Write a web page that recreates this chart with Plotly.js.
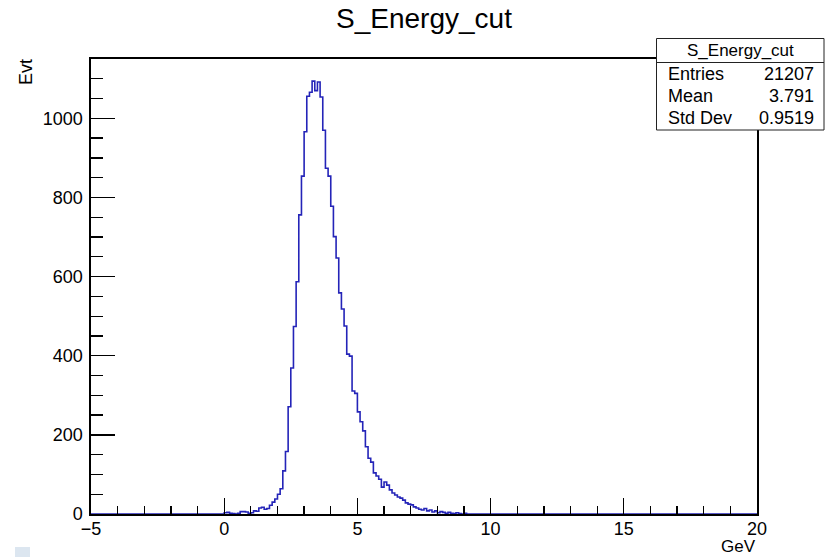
<!DOCTYPE html>
<html>
<head>
<meta charset="utf-8">
<script src="https://cdn.plot.ly/plotly-3.0.1.min.js"></script>
<style>
  html, body { margin: 0; padding: 0; background: #ffffff; }
  #chart { width: 826px; height: 557px; }
</style>
</head>
<body>
<div id="chart"></div>
<script>
// ---- Data (histogram S_Energy_cut, 0.1 GeV bins starting at 0.0 GeV) ----
const histName = "S_Energy_cut";
const binStart = 0.0;
const binWidth = 0.1;
const axisMin = -5;
const axisMax = 20;
const counts = [
  3, 4, 2, 1, 0, 2, 6, 6, 5, 2,
  3, 8, 7, 15, 17, 12, 14, 22, 30, 38,
  50, 64, 109, 158, 271, 369, 474, 587, 756, 854,
  966, 1056, 1066, 1094, 1070, 1092, 1054, 970, 874, 854,
  778, 701, 647, 559, 518, 475, 404, 399, 311, 305,
  258, 233, 210, 170, 141, 131, 104, 96, 88, 68,
  81, 73, 61, 53, 48, 43, 40, 35, 28, 25,
  23, 18, 15, 12, 10, 14, 8, 10, 5, 8,
  3, 6, 4, 2, 4, 2, 1, 3, 1, 0,
  2
];
const statLabels = ["Entries", "Mean", "Std Dev"];
const statValues = ["21207", "3.791", "0.9519"];
const xTitle = "GeV";
const yTitle = "Evt";

// ---- Build step outline from bins ----
const xs = [axisMin];
const ys = [0];
for (let i = 0; i < counts.length; i++) {
  xs.push(+(binStart + i * binWidth).toFixed(4));
  ys.push(counts[i]);
}
xs.push(+(binStart + counts.length * binWidth).toFixed(4));
ys.push(0);
xs.push(axisMax);
ys.push(0);

const FONT = "Liberation Sans, Arial, Helvetica, sans-serif";

// plot-area pixel geometry
const L = 91, R = 757, T = 59, B = 514, W = 826, H = 557;
const px = v => (v - L) / (R - L);
const py = v => (B - v) / (B - T);

const trace = {
  type: "scatter",
  mode: "lines",
  x: xs,
  y: ys,
  line: { shape: "hv", color: "#2424b8", width: 1.6 },
  hoverinfo: "x+y",
  showlegend: false
};

const shapes = [
  // stats box
  { type: "rect", xref: "paper", yref: "paper",
    x0: px(656.5), x1: px(824), y0: py(130), y1: py(38.5),
    line: { color: "#222222", width: 1 }, fillcolor: "#ffffff", layer: "above" },
  { type: "line", xref: "paper", yref: "paper",
    x0: px(656.5), x1: px(824), y0: py(62.5), y1: py(62.5),
    line: { color: "#222222", width: 1 }, layer: "above" },
  // small light square bottom-left
  { type: "rect", xref: "paper", yref: "paper",
    x0: px(15), x1: px(30), y0: py(547), y1: py(557),
    line: { width: 0 }, fillcolor: "#dce6f0", layer: "above" }
];

const annotations = [
  { xref: "paper", yref: "paper", x: px(740), y: py(50), text: histName,
    showarrow: false, xanchor: "center", yanchor: "middle",
    font: { family: FONT, size: 17, color: "#000" } },
  { xref: "paper", yref: "paper", x: px(26), y: py(57), text: yTitle,
    showarrow: false, textangle: -90, xanchor: "center", yanchor: "top",
    font: { family: FONT, size: 18, color: "#000" } },
  { xref: "paper", yref: "paper", x: px(757), y: py(546.5), text: xTitle,
    showarrow: false, xanchor: "right", yanchor: "middle", borderpad: 0,
    font: { family: FONT, size: 17, color: "#000" } }
];
const rowY = [73.5, 95.5, 117.5];
for (let i = 0; i < statLabels.length; i++) {
  annotations.push({ xref: "paper", yref: "paper", x: px(666), y: py(rowY[i]),
    text: statLabels[i], showarrow: false, xanchor: "left", yanchor: "middle",
    font: { family: FONT, size: 18, color: "#000" } });
  annotations.push({ xref: "paper", yref: "paper", x: px(816), y: py(rowY[i]),
    text: statValues[i], showarrow: false, xanchor: "right", yanchor: "middle",
    font: { family: FONT, size: 18, color: "#000" } });
}

const layout = {
  width: W, height: H,
  margin: { l: L, r: W - R, t: T, b: H - B, pad: 0 },
  paper_bgcolor: "#ffffff",
  plot_bgcolor: "#ffffff",
  title: { text: histName, x: 424 / W, xref: "container", xanchor: "center",
           y: 1 - 18 / H, yref: "container", yanchor: "middle",
           font: { family: FONT, size: 28, color: "#000" } },
  xaxis: {
    range: [axisMin, axisMax],
    tickmode: "linear", tick0: -5, dtick: 5,
    ticks: "inside", ticklen: 16, tickwidth: 1.3, tickcolor: "#000",
    minor: { dtick: 1, tick0: -5, ticks: "inside", ticklen: 8, tickwidth: 1.3, tickcolor: "#000", showgrid: false },
    showline: true, linecolor: "#000", linewidth: 1.6, mirror: true,
    showgrid: false, zeroline: false,
    tickfont: { family: FONT, size: 18, color: "#000" },
    ticklabelstandoff: -2,
    fixedrange: true
  },
  yaxis: {
    range: [0, 1150],
    tickmode: "linear", tick0: 0, dtick: 200,
    ticks: "inside", ticklen: 24, tickwidth: 1.3, tickcolor: "#000",
    minor: { dtick: 50, tick0: 0, ticks: "inside", ticklen: 12, tickwidth: 1.3, tickcolor: "#000", showgrid: false },
    showline: true, linecolor: "#000", linewidth: 1.6, mirror: true,
    showgrid: false, zeroline: false,
    tickfont: { family: FONT, size: 18, color: "#000" },
    ticklabelstandoff: 3,
    fixedrange: true
  },
  shapes: shapes,
  annotations: annotations,
  showlegend: false
};

Plotly.newPlot("chart", [trace], layout, { displayModeBar: false, staticPlot: true });
</script>
</body>
</html>
